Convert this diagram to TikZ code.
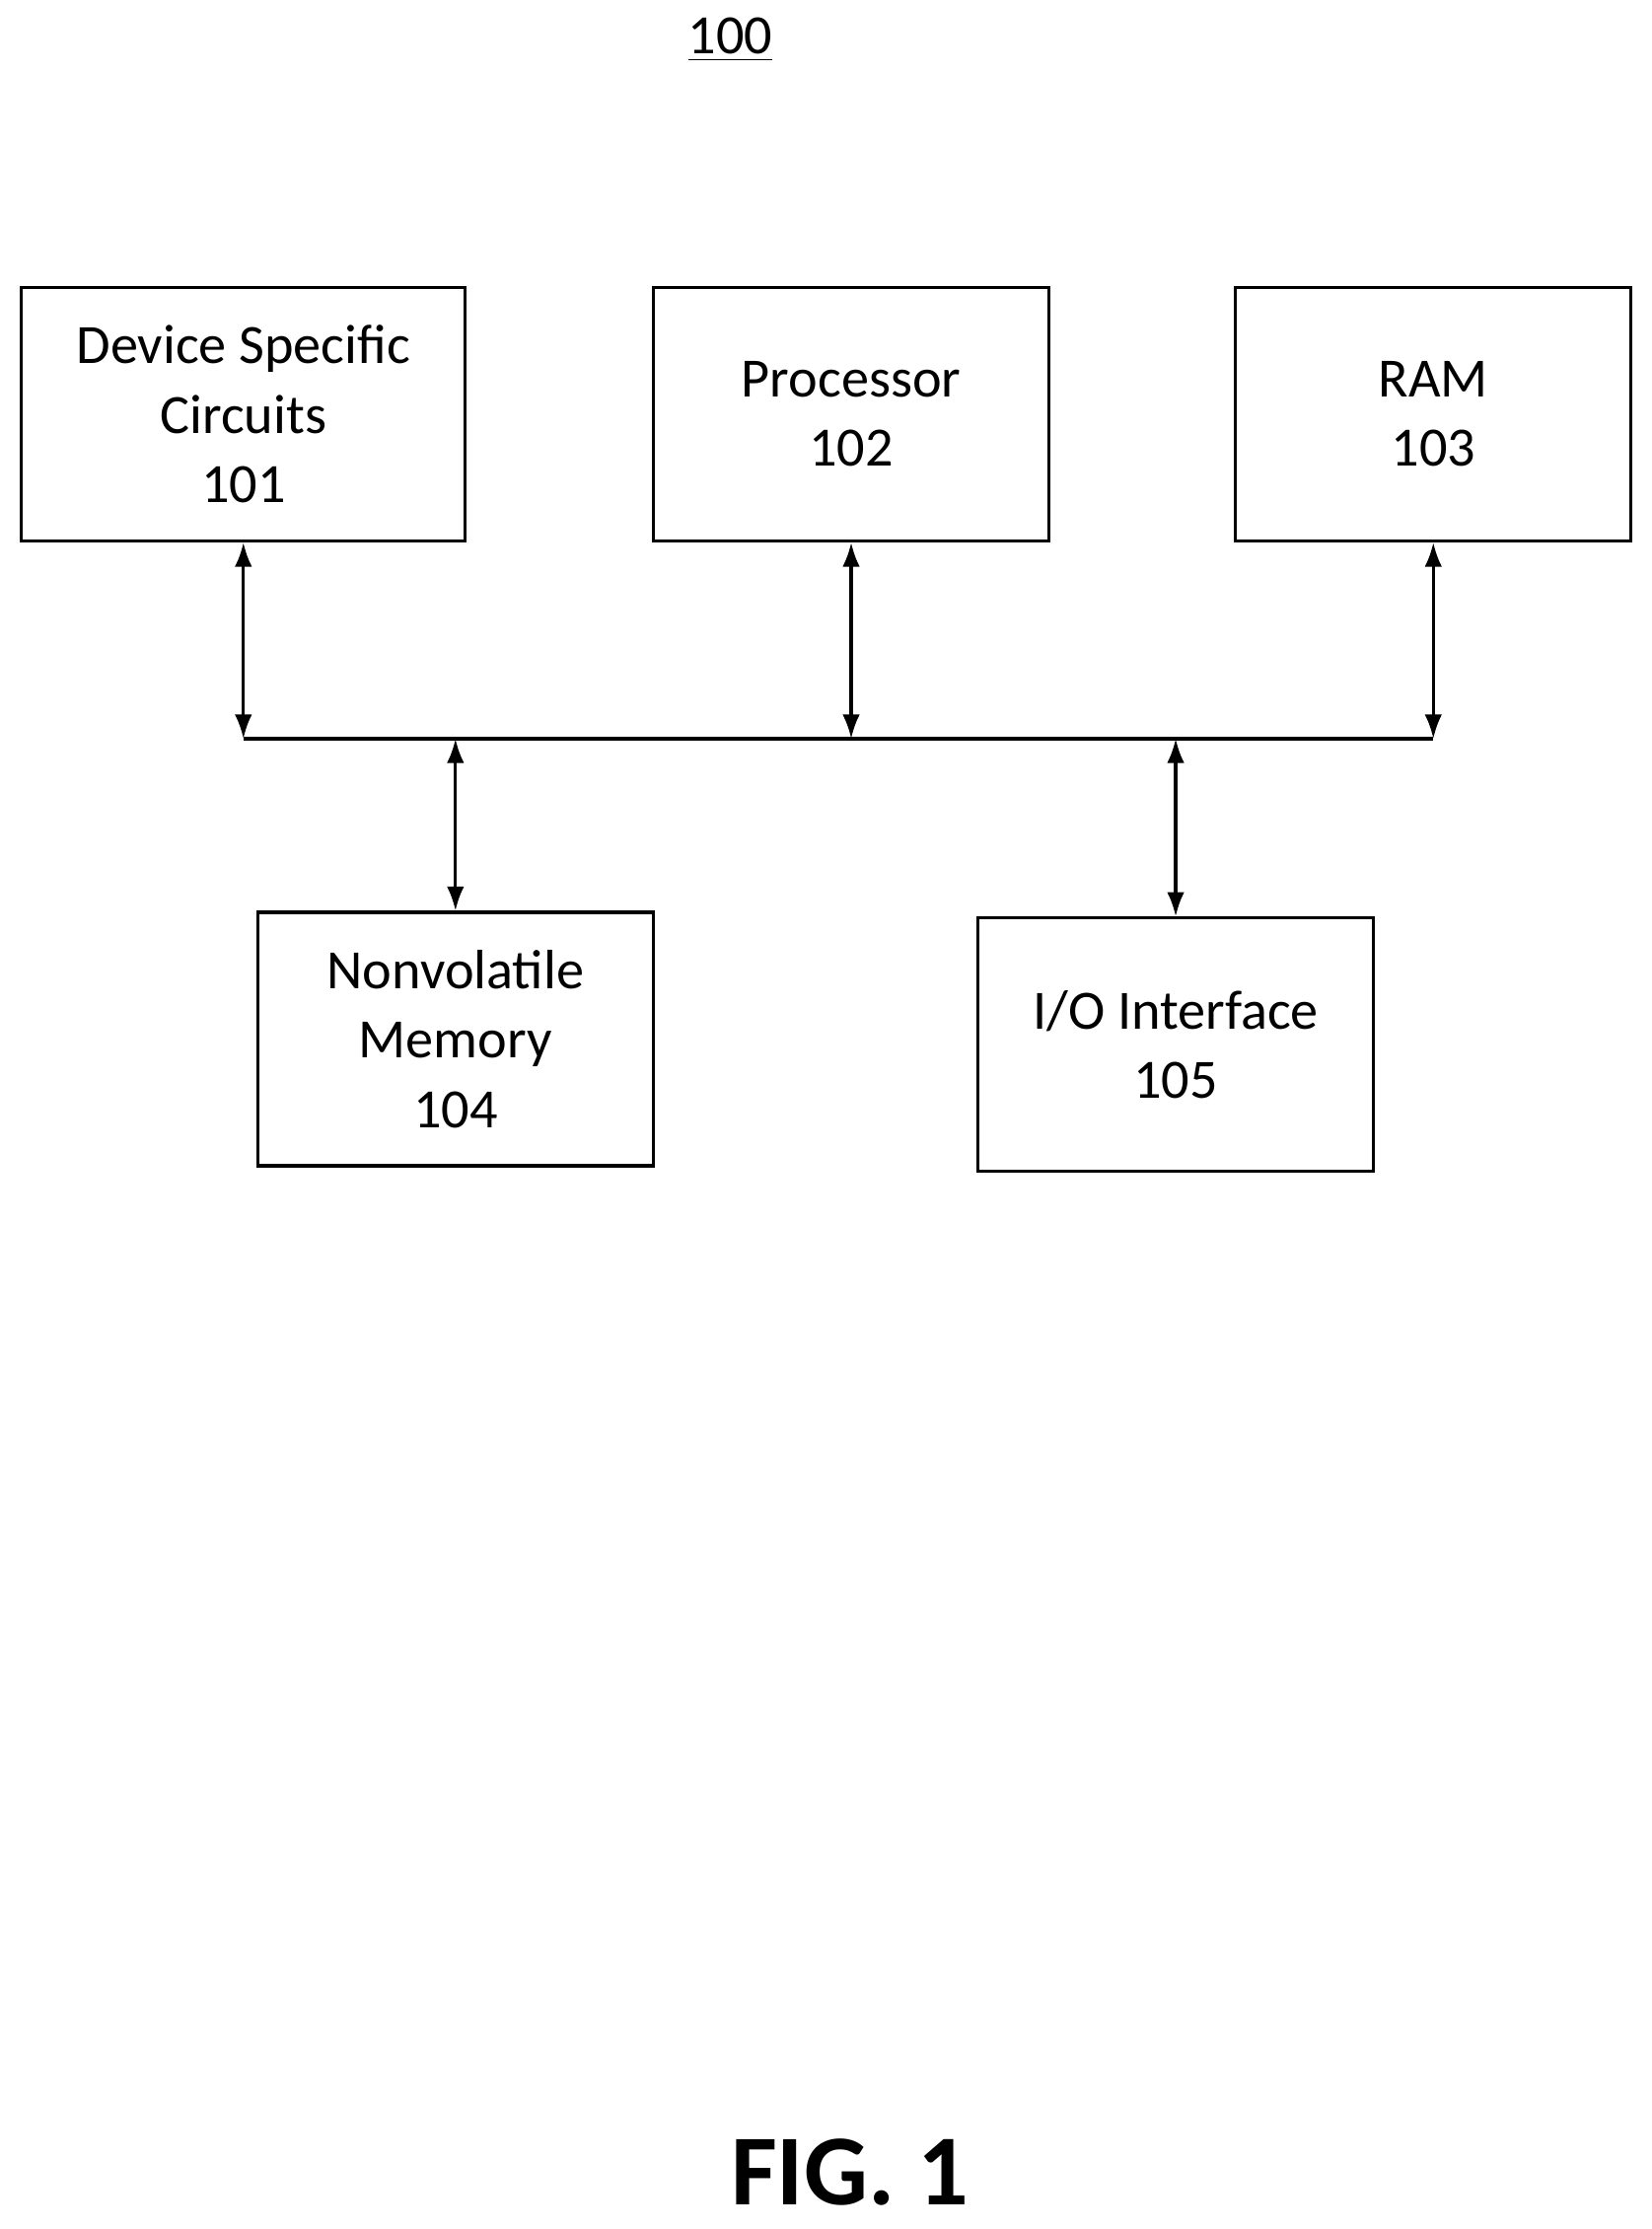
\documentclass[tikz,border=0pt]{standalone}
\usepackage{fontspec}
\setmainfont{Carlito}
\usetikzlibrary{calc,arrows.meta}

\begin{document}
\begin{tikzpicture}[x=0.01444cm, y=-0.01444cm, >={Latex[length=7pt,width=5pt]},
  blk/.style={draw, line width=0.9pt, align=center, font=\fontsize{16}{20}\selectfont,
    minimum height=2.57cm, inner sep=0pt},
  link/.style={<->, line width=0.9pt}]

  % Page frame
  \useasboundingbox (0,0) rectangle (1160,1566);

  % Title
  \node (title) at (513,28) {\fontsize{16}{18}\selectfont\underline{100}};

  % Upper row
  \node[blk, minimum width=4.5cm]  (dsc) at (171,291) {Device Specific\\Circuits\\101};
  \node[blk, minimum width=4.01cm] (cpu) at (598,291) {Processor\\102};
  \node[blk, minimum width=4.01cm] (ram) at (1007,291) {RAM\\103};

  % Lower row
  \node[blk, minimum width=4.01cm] (nvm) at (320,730) {Nonvolatile\\Memory\\104};
  \node[blk, minimum width=4.01cm] (io)  at (826,734) {I/O Interface\\105};

  % Bus
  \coordinate (busL) at (171,519);
  \coordinate (busR) at (1007,519);
  \draw[line width=0.9pt] (busL) -- (busR);

  % Links to the bus
  \draw[link] (dsc.south) -- (busL);
  \draw[link] (cpu.south) -- (cpu.south |- busL);
  \draw[link] (ram.south) -- (busR);
  \draw[link] (nvm.north) -- (nvm.north |- busL);
  \draw[link] (io.north) -- (io.north |- busL);

  % Caption
  \node[font=\fontsize{29}{34}\selectfont\bfseries] (fig) at (597,1526) {FIG. 1};

\end{tikzpicture}
\end{document}
